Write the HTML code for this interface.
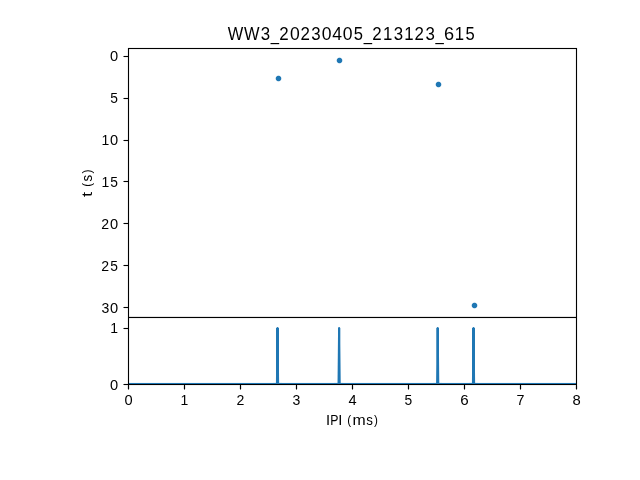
<!DOCTYPE html>
<html><head><meta charset="utf-8"><style>
html,body{margin:0;padding:0;background:#fff;width:640px;height:480px;overflow:hidden}
svg{display:block;will-change:transform}
text{font-family:"Liberation Sans",sans-serif;fill:#000}
</style></head><body>
<svg width="640" height="480" viewBox="0 0 640 480">
<rect width="640" height="480" fill="#fff"/>
<g fill="#1f77b4"><g transform="translate(278 78)"><rect x="-1" y="-3" width="1" height="1" fill-opacity="0.11"/><rect x="0" y="-3" width="1" height="1" fill-opacity="0.26"/><rect x="1" y="-3" width="1" height="1" fill-opacity="0.11"/><rect x="-2" y="-2" width="1" height="1" fill-opacity="0.39"/><rect x="-1" y="-2" width="1" height="1" fill-opacity="0.99"/><rect x="0" y="-2" width="1" height="1"/><rect x="1" y="-2" width="1" height="1" fill-opacity="0.99"/><rect x="2" y="-2" width="1" height="1" fill-opacity="0.39"/><rect x="-3" y="-1" width="1" height="1" fill-opacity="0.11"/><rect x="-2" y="-1" width="1" height="1" fill-opacity="0.99"/><rect x="-1" y="-1" width="3" height="1"/><rect x="2" y="-1" width="1" height="1" fill-opacity="0.99"/><rect x="3" y="-1" width="1" height="1" fill-opacity="0.11"/><rect x="-3" y="0" width="1" height="1" fill-opacity="0.26"/><rect x="-2" y="0" width="5" height="1"/><rect x="3" y="0" width="1" height="1" fill-opacity="0.25"/><rect x="-3" y="1" width="1" height="1" fill-opacity="0.11"/><rect x="-2" y="1" width="1" height="1" fill-opacity="0.99"/><rect x="-1" y="1" width="3" height="1"/><rect x="2" y="1" width="1" height="1" fill-opacity="0.99"/><rect x="3" y="1" width="1" height="1" fill-opacity="0.11"/><rect x="-2" y="2" width="1" height="1" fill-opacity="0.39"/><rect x="-1" y="2" width="1" height="1" fill-opacity="0.99"/><rect x="0" y="2" width="1" height="1"/><rect x="1" y="2" width="1" height="1" fill-opacity="0.99"/><rect x="2" y="2" width="1" height="1" fill-opacity="0.39"/><rect x="-1" y="3" width="1" height="1" fill-opacity="0.11"/><rect x="0" y="3" width="1" height="1" fill-opacity="0.25"/><rect x="1" y="3" width="1" height="1" fill-opacity="0.11"/></g><g transform="translate(339 60)"><rect x="-1" y="-3" width="1" height="1" fill-opacity="0.11"/><rect x="0" y="-3" width="1" height="1" fill-opacity="0.26"/><rect x="1" y="-3" width="1" height="1" fill-opacity="0.11"/><rect x="-2" y="-2" width="1" height="1" fill-opacity="0.39"/><rect x="-1" y="-2" width="1" height="1" fill-opacity="0.99"/><rect x="0" y="-2" width="1" height="1"/><rect x="1" y="-2" width="1" height="1" fill-opacity="0.99"/><rect x="2" y="-2" width="1" height="1" fill-opacity="0.39"/><rect x="-3" y="-1" width="1" height="1" fill-opacity="0.11"/><rect x="-2" y="-1" width="1" height="1" fill-opacity="0.99"/><rect x="-1" y="-1" width="3" height="1"/><rect x="2" y="-1" width="1" height="1" fill-opacity="0.99"/><rect x="3" y="-1" width="1" height="1" fill-opacity="0.11"/><rect x="-3" y="0" width="1" height="1" fill-opacity="0.26"/><rect x="-2" y="0" width="5" height="1"/><rect x="3" y="0" width="1" height="1" fill-opacity="0.25"/><rect x="-3" y="1" width="1" height="1" fill-opacity="0.11"/><rect x="-2" y="1" width="1" height="1" fill-opacity="0.99"/><rect x="-1" y="1" width="3" height="1"/><rect x="2" y="1" width="1" height="1" fill-opacity="0.99"/><rect x="3" y="1" width="1" height="1" fill-opacity="0.11"/><rect x="-2" y="2" width="1" height="1" fill-opacity="0.39"/><rect x="-1" y="2" width="1" height="1" fill-opacity="0.99"/><rect x="0" y="2" width="1" height="1"/><rect x="1" y="2" width="1" height="1" fill-opacity="0.99"/><rect x="2" y="2" width="1" height="1" fill-opacity="0.39"/><rect x="-1" y="3" width="1" height="1" fill-opacity="0.11"/><rect x="0" y="3" width="1" height="1" fill-opacity="0.25"/><rect x="1" y="3" width="1" height="1" fill-opacity="0.11"/></g><g transform="translate(438 84)"><rect x="-1" y="-3" width="1" height="1" fill-opacity="0.11"/><rect x="0" y="-3" width="1" height="1" fill-opacity="0.26"/><rect x="1" y="-3" width="1" height="1" fill-opacity="0.11"/><rect x="-2" y="-2" width="1" height="1" fill-opacity="0.39"/><rect x="-1" y="-2" width="1" height="1" fill-opacity="0.99"/><rect x="0" y="-2" width="1" height="1"/><rect x="1" y="-2" width="1" height="1" fill-opacity="0.99"/><rect x="2" y="-2" width="1" height="1" fill-opacity="0.39"/><rect x="-3" y="-1" width="1" height="1" fill-opacity="0.11"/><rect x="-2" y="-1" width="1" height="1" fill-opacity="0.99"/><rect x="-1" y="-1" width="3" height="1"/><rect x="2" y="-1" width="1" height="1" fill-opacity="0.99"/><rect x="3" y="-1" width="1" height="1" fill-opacity="0.11"/><rect x="-3" y="0" width="1" height="1" fill-opacity="0.26"/><rect x="-2" y="0" width="5" height="1"/><rect x="3" y="0" width="1" height="1" fill-opacity="0.25"/><rect x="-3" y="1" width="1" height="1" fill-opacity="0.11"/><rect x="-2" y="1" width="1" height="1" fill-opacity="0.99"/><rect x="-1" y="1" width="3" height="1"/><rect x="2" y="1" width="1" height="1" fill-opacity="0.99"/><rect x="3" y="1" width="1" height="1" fill-opacity="0.11"/><rect x="-2" y="2" width="1" height="1" fill-opacity="0.39"/><rect x="-1" y="2" width="1" height="1" fill-opacity="0.99"/><rect x="0" y="2" width="1" height="1"/><rect x="1" y="2" width="1" height="1" fill-opacity="0.99"/><rect x="2" y="2" width="1" height="1" fill-opacity="0.39"/><rect x="-1" y="3" width="1" height="1" fill-opacity="0.11"/><rect x="0" y="3" width="1" height="1" fill-opacity="0.25"/><rect x="1" y="3" width="1" height="1" fill-opacity="0.11"/></g><g transform="translate(474 305)"><rect x="-1" y="-3" width="1" height="1" fill-opacity="0.11"/><rect x="0" y="-3" width="1" height="1" fill-opacity="0.26"/><rect x="1" y="-3" width="1" height="1" fill-opacity="0.11"/><rect x="-2" y="-2" width="1" height="1" fill-opacity="0.39"/><rect x="-1" y="-2" width="1" height="1" fill-opacity="0.99"/><rect x="0" y="-2" width="1" height="1"/><rect x="1" y="-2" width="1" height="1" fill-opacity="0.99"/><rect x="2" y="-2" width="1" height="1" fill-opacity="0.39"/><rect x="-3" y="-1" width="1" height="1" fill-opacity="0.11"/><rect x="-2" y="-1" width="1" height="1" fill-opacity="0.99"/><rect x="-1" y="-1" width="3" height="1"/><rect x="2" y="-1" width="1" height="1" fill-opacity="0.99"/><rect x="3" y="-1" width="1" height="1" fill-opacity="0.11"/><rect x="-3" y="0" width="1" height="1" fill-opacity="0.26"/><rect x="-2" y="0" width="5" height="1"/><rect x="3" y="0" width="1" height="1" fill-opacity="0.25"/><rect x="-3" y="1" width="1" height="1" fill-opacity="0.11"/><rect x="-2" y="1" width="1" height="1" fill-opacity="0.99"/><rect x="-1" y="1" width="3" height="1"/><rect x="2" y="1" width="1" height="1" fill-opacity="0.99"/><rect x="3" y="1" width="1" height="1" fill-opacity="0.11"/><rect x="-2" y="2" width="1" height="1" fill-opacity="0.39"/><rect x="-1" y="2" width="1" height="1" fill-opacity="0.99"/><rect x="0" y="2" width="1" height="1"/><rect x="1" y="2" width="1" height="1" fill-opacity="0.99"/><rect x="2" y="2" width="1" height="1" fill-opacity="0.39"/><rect x="-1" y="3" width="1" height="1" fill-opacity="0.11"/><rect x="0" y="3" width="1" height="1" fill-opacity="0.25"/><rect x="1" y="3" width="1" height="1" fill-opacity="0.11"/></g></g>
<g fill="#1f77b4"><rect x="273" y="382" width="1" height="1" fill-opacity="0.04"/><rect x="274" y="382" width="1" height="1" fill-opacity="0.04"/><rect x="275" y="377" width="1" height="1" fill-opacity="0.02"/><rect x="275" y="378" width="1" height="1" fill-opacity="0.03"/><rect x="275" y="379" width="1" height="1" fill-opacity="0.04"/><rect x="275" y="380" width="1" height="1" fill-opacity="0.05"/><rect x="275" y="381" width="1" height="1" fill-opacity="0.06"/><rect x="275" y="382" width="1" height="1" fill-opacity="0.11"/><rect x="276" y="327" width="1" height="1" fill-opacity="0.29"/><rect x="276" y="328" width="1" height="55"/><rect x="277" y="327" width="1" height="1" fill-opacity="0.94"/><rect x="277" y="328" width="1" height="55"/><rect x="278" y="327" width="1" height="1" fill-opacity="0.32"/><rect x="278" y="328" width="1" height="55"/><rect x="279" y="373" width="1" height="1" fill-opacity="0.02"/><rect x="279" y="374" width="1" height="1" fill-opacity="0.03"/><rect x="279" y="375" width="1" height="2" fill-opacity="0.04"/><rect x="279" y="377" width="1" height="1" fill-opacity="0.06"/><rect x="279" y="378" width="1" height="1" fill-opacity="0.07"/><rect x="279" y="379" width="1" height="1" fill-opacity="0.08"/><rect x="279" y="380" width="1" height="1" fill-opacity="0.09"/><rect x="279" y="381" width="1" height="1" fill-opacity="0.1"/><rect x="279" y="382" width="1" height="1" fill-opacity="0.15"/><rect x="280" y="382" width="1" height="1" fill-opacity="0.04"/><rect x="281" y="382" width="1" height="1" fill-opacity="0.04"/><rect x="334" y="382" width="1" height="1" fill-opacity="0.04"/><rect x="335" y="382" width="1" height="1" fill-opacity="0.04"/><rect x="336" y="382" width="1" height="1" fill-opacity="0.04"/><rect x="337" y="337" width="1" height="1" fill-opacity="0.02"/><rect x="337" y="338" width="1" height="2" fill-opacity="0.04"/><rect x="337" y="340" width="1" height="1" fill-opacity="0.05"/><rect x="337" y="341" width="1" height="1" fill-opacity="0.06"/><rect x="337" y="342" width="1" height="1" fill-opacity="0.07"/><rect x="337" y="343" width="1" height="1" fill-opacity="0.08"/><rect x="337" y="344" width="1" height="1" fill-opacity="0.09"/><rect x="337" y="345" width="1" height="1" fill-opacity="0.1"/><rect x="337" y="346" width="1" height="1" fill-opacity="0.11"/><rect x="337" y="347" width="1" height="1" fill-opacity="0.12"/><rect x="337" y="348" width="1" height="1" fill-opacity="0.13"/><rect x="337" y="349" width="1" height="1" fill-opacity="0.14"/><rect x="337" y="350" width="1" height="2" fill-opacity="0.16"/><rect x="337" y="352" width="1" height="1" fill-opacity="0.17"/><rect x="337" y="353" width="1" height="1" fill-opacity="0.18"/><rect x="337" y="354" width="1" height="2" fill-opacity="0.2"/><rect x="337" y="356" width="1" height="1" fill-opacity="0.21"/><rect x="337" y="357" width="1" height="1" fill-opacity="0.22"/><rect x="337" y="358" width="1" height="1" fill-opacity="0.23"/><rect x="337" y="359" width="1" height="2" fill-opacity="0.25"/><rect x="337" y="361" width="1" height="1" fill-opacity="0.26"/><rect x="337" y="362" width="1" height="1" fill-opacity="0.27"/><rect x="337" y="363" width="1" height="2" fill-opacity="0.29"/><rect x="337" y="365" width="1" height="1" fill-opacity="0.3"/><rect x="337" y="366" width="1" height="2" fill-opacity="0.32"/><rect x="337" y="368" width="1" height="1" fill-opacity="0.33"/><rect x="337" y="369" width="1" height="1" fill-opacity="0.34"/><rect x="337" y="370" width="1" height="1" fill-opacity="0.35"/><rect x="337" y="371" width="1" height="1" fill-opacity="0.36"/><rect x="337" y="372" width="1" height="2" fill-opacity="0.38"/><rect x="337" y="374" width="1" height="1" fill-opacity="0.39"/><rect x="337" y="375" width="1" height="1" fill-opacity="0.41"/><rect x="337" y="376" width="1" height="2" fill-opacity="0.42"/><rect x="337" y="378" width="1" height="1" fill-opacity="0.43"/><rect x="337" y="379" width="1" height="2" fill-opacity="0.45"/><rect x="337" y="381" width="1" height="1" fill-opacity="0.46"/><rect x="337" y="382" width="1" height="1" fill-opacity="0.5"/><rect x="338" y="327" width="1" height="1" fill-opacity="0.66"/><rect x="338" y="328" width="1" height="55"/><rect x="339" y="327" width="1" height="1" fill-opacity="0.86"/><rect x="339" y="328" width="1" height="55"/><rect x="340" y="327" width="1" height="1" fill-opacity="0.04"/><rect x="340" y="328" width="1" height="16" fill-opacity="0.32"/><rect x="340" y="344" width="1" height="1" fill-opacity="0.33"/><rect x="340" y="345" width="1" height="1" fill-opacity="0.34"/><rect x="340" y="346" width="1" height="1" fill-opacity="0.35"/><rect x="340" y="347" width="1" height="1" fill-opacity="0.36"/><rect x="340" y="348" width="1" height="1" fill-opacity="0.37"/><rect x="340" y="349" width="1" height="1" fill-opacity="0.38"/><rect x="340" y="350" width="1" height="1" fill-opacity="0.39"/><rect x="340" y="351" width="1" height="1" fill-opacity="0.4"/><rect x="340" y="352" width="1" height="1" fill-opacity="0.41"/><rect x="340" y="353" width="1" height="1" fill-opacity="0.42"/><rect x="340" y="354" width="1" height="1" fill-opacity="0.43"/><rect x="340" y="355" width="1" height="1" fill-opacity="0.44"/><rect x="340" y="356" width="1" height="1" fill-opacity="0.45"/><rect x="340" y="357" width="1" height="1" fill-opacity="0.46"/><rect x="340" y="358" width="1" height="1" fill-opacity="0.47"/><rect x="340" y="359" width="1" height="1" fill-opacity="0.48"/><rect x="340" y="360" width="1" height="1" fill-opacity="0.49"/><rect x="340" y="361" width="1" height="1" fill-opacity="0.5"/><rect x="340" y="362" width="1" height="1" fill-opacity="0.51"/><rect x="340" y="363" width="1" height="1" fill-opacity="0.52"/><rect x="340" y="364" width="1" height="1" fill-opacity="0.53"/><rect x="340" y="365" width="1" height="1" fill-opacity="0.54"/><rect x="340" y="366" width="1" height="1" fill-opacity="0.55"/><rect x="340" y="367" width="1" height="1" fill-opacity="0.56"/><rect x="340" y="368" width="1" height="1" fill-opacity="0.57"/><rect x="340" y="369" width="1" height="1" fill-opacity="0.58"/><rect x="340" y="370" width="1" height="1" fill-opacity="0.59"/><rect x="340" y="371" width="1" height="1" fill-opacity="0.6"/><rect x="340" y="372" width="1" height="1" fill-opacity="0.61"/><rect x="340" y="373" width="1" height="1" fill-opacity="0.62"/><rect x="340" y="374" width="1" height="1" fill-opacity="0.63"/><rect x="340" y="375" width="1" height="1" fill-opacity="0.64"/><rect x="340" y="376" width="1" height="1" fill-opacity="0.65"/><rect x="340" y="377" width="1" height="1" fill-opacity="0.66"/><rect x="340" y="378" width="1" height="1" fill-opacity="0.67"/><rect x="340" y="379" width="1" height="1" fill-opacity="0.68"/><rect x="340" y="380" width="1" height="1" fill-opacity="0.69"/><rect x="340" y="381" width="1" height="1" fill-opacity="0.7"/><rect x="340" y="382" width="1" height="1" fill-opacity="0.72"/><rect x="341" y="382" width="1" height="1" fill-opacity="0.04"/><rect x="342" y="382" width="1" height="1" fill-opacity="0.04"/><rect x="433" y="382" width="1" height="1" fill-opacity="0.04"/><rect x="434" y="382" width="1" height="1" fill-opacity="0.04"/><rect x="435" y="382" width="1" height="1" fill-opacity="0.04"/><rect x="436" y="327" width="1" height="1" fill-opacity="0.16"/><rect x="436" y="328" width="1" height="37" fill-opacity="0.73"/><rect x="436" y="365" width="1" height="1" fill-opacity="0.74"/><rect x="436" y="366" width="1" height="1" fill-opacity="0.75"/><rect x="436" y="367" width="1" height="1" fill-opacity="0.76"/><rect x="436" y="368" width="1" height="1" fill-opacity="0.77"/><rect x="436" y="369" width="1" height="1" fill-opacity="0.78"/><rect x="436" y="370" width="1" height="1" fill-opacity="0.79"/><rect x="436" y="371" width="1" height="1" fill-opacity="0.8"/><rect x="436" y="372" width="1" height="1" fill-opacity="0.81"/><rect x="436" y="373" width="1" height="1" fill-opacity="0.82"/><rect x="436" y="374" width="1" height="1" fill-opacity="0.83"/><rect x="436" y="375" width="1" height="1" fill-opacity="0.84"/><rect x="436" y="376" width="1" height="1" fill-opacity="0.85"/><rect x="436" y="377" width="1" height="1" fill-opacity="0.86"/><rect x="436" y="378" width="1" height="1" fill-opacity="0.87"/><rect x="436" y="379" width="1" height="1" fill-opacity="0.88"/><rect x="436" y="380" width="1" height="1" fill-opacity="0.89"/><rect x="436" y="381" width="1" height="1" fill-opacity="0.9"/><rect x="436" y="382" width="1" height="1" fill-opacity="0.92"/><rect x="437" y="327" width="1" height="1" fill-opacity="0.93"/><rect x="437" y="328" width="1" height="55"/><rect x="438" y="327" width="1" height="1" fill-opacity="0.46"/><rect x="438" y="328" width="1" height="55"/><rect x="439" y="357" width="1" height="1" fill-opacity="0.02"/><rect x="439" y="358" width="1" height="1" fill-opacity="0.03"/><rect x="439" y="359" width="1" height="1" fill-opacity="0.04"/><rect x="439" y="360" width="1" height="1" fill-opacity="0.05"/><rect x="439" y="361" width="1" height="1" fill-opacity="0.06"/><rect x="439" y="362" width="1" height="1" fill-opacity="0.07"/><rect x="439" y="363" width="1" height="1" fill-opacity="0.08"/><rect x="439" y="364" width="1" height="1" fill-opacity="0.09"/><rect x="439" y="365" width="1" height="1" fill-opacity="0.1"/><rect x="439" y="366" width="1" height="1" fill-opacity="0.11"/><rect x="439" y="367" width="1" height="1" fill-opacity="0.12"/><rect x="439" y="368" width="1" height="2" fill-opacity="0.13"/><rect x="439" y="370" width="1" height="1" fill-opacity="0.15"/><rect x="439" y="371" width="1" height="1" fill-opacity="0.16"/><rect x="439" y="372" width="1" height="1" fill-opacity="0.17"/><rect x="439" y="373" width="1" height="1" fill-opacity="0.18"/><rect x="439" y="374" width="1" height="1" fill-opacity="0.19"/><rect x="439" y="375" width="1" height="1" fill-opacity="0.2"/><rect x="439" y="376" width="1" height="1" fill-opacity="0.21"/><rect x="439" y="377" width="1" height="1" fill-opacity="0.22"/><rect x="439" y="378" width="1" height="1" fill-opacity="0.23"/><rect x="439" y="379" width="1" height="1" fill-opacity="0.24"/><rect x="439" y="380" width="1" height="1" fill-opacity="0.25"/><rect x="439" y="381" width="1" height="1" fill-opacity="0.26"/><rect x="439" y="382" width="1" height="1" fill-opacity="0.3"/><rect x="440" y="382" width="1" height="1" fill-opacity="0.04"/><rect x="441" y="382" width="1" height="1" fill-opacity="0.04"/><rect x="469" y="382" width="1" height="1" fill-opacity="0.04"/><rect x="470" y="382" width="1" height="1" fill-opacity="0.04"/><rect x="471" y="377" width="1" height="1" fill-opacity="0.02"/><rect x="471" y="378" width="1" height="1" fill-opacity="0.03"/><rect x="471" y="379" width="1" height="1" fill-opacity="0.04"/><rect x="471" y="380" width="1" height="1" fill-opacity="0.05"/><rect x="471" y="381" width="1" height="1" fill-opacity="0.06"/><rect x="471" y="382" width="1" height="1" fill-opacity="0.11"/><rect x="472" y="327" width="1" height="1" fill-opacity="0.29"/><rect x="472" y="328" width="1" height="55"/><rect x="473" y="327" width="1" height="1" fill-opacity="0.94"/><rect x="473" y="328" width="1" height="55"/><rect x="474" y="327" width="1" height="1" fill-opacity="0.32"/><rect x="474" y="328" width="1" height="55"/><rect x="475" y="373" width="1" height="1" fill-opacity="0.02"/><rect x="475" y="374" width="1" height="1" fill-opacity="0.03"/><rect x="475" y="375" width="1" height="2" fill-opacity="0.04"/><rect x="475" y="377" width="1" height="1" fill-opacity="0.06"/><rect x="475" y="378" width="1" height="1" fill-opacity="0.07"/><rect x="475" y="379" width="1" height="1" fill-opacity="0.08"/><rect x="475" y="380" width="1" height="1" fill-opacity="0.09"/><rect x="475" y="381" width="1" height="1" fill-opacity="0.1"/><rect x="475" y="382" width="1" height="1" fill-opacity="0.15"/><rect x="476" y="382" width="1" height="1" fill-opacity="0.04"/><rect x="477" y="382" width="1" height="1" fill-opacity="0.04"/><rect x="129" y="382" width="447" height="1" fill-opacity="0.045"/><rect x="129" y="383" width="447" height="1"/></g>
<path d="M128.5 48.5H576.5V384.5H128.5ZM128 317.5H576" fill="none" stroke="#000" stroke-width="1.11"/>
<g fill="#000" fill-opacity="0.055"><rect x="128" y="47" width="449" height="1"/><rect x="129" y="49" width="447" height="1"/><rect x="129" y="316" width="447" height="1"/><rect x="129" y="316" width="447" height="1"/><rect x="124" y="55" width="4" height="1"/><rect x="124" y="57" width="4" height="1"/><rect x="124" y="97" width="4" height="1"/><rect x="124" y="99" width="4" height="1"/><rect x="124" y="139" width="4" height="1"/><rect x="124" y="141" width="4" height="1"/><rect x="124" y="180" width="4" height="1"/><rect x="124" y="182" width="4" height="1"/><rect x="124" y="222" width="4" height="1"/><rect x="124" y="224" width="4" height="1"/><rect x="124" y="264" width="4" height="1"/><rect x="124" y="266" width="4" height="1"/><rect x="124" y="306" width="4" height="1"/><rect x="124" y="308" width="4" height="1"/><rect x="124" y="383" width="4" height="1"/><rect x="124" y="385" width="4" height="1"/><rect x="124" y="327" width="4" height="1"/><rect x="124" y="329" width="4" height="1"/><rect x="127" y="386" width="1" height="3"/><rect x="129" y="386" width="1" height="3"/><rect x="183" y="386" width="1" height="3"/><rect x="185" y="386" width="1" height="3"/><rect x="239" y="386" width="1" height="3"/><rect x="241" y="386" width="1" height="3"/><rect x="295" y="386" width="1" height="3"/><rect x="297" y="386" width="1" height="3"/><rect x="351" y="386" width="1" height="3"/><rect x="353" y="386" width="1" height="3"/><rect x="407" y="386" width="1" height="3"/><rect x="409" y="386" width="1" height="3"/><rect x="463" y="386" width="1" height="3"/><rect x="465" y="386" width="1" height="3"/><rect x="519" y="386" width="1" height="3"/><rect x="521" y="386" width="1" height="3"/><rect x="575" y="386" width="1" height="3"/><rect x="577" y="386" width="1" height="3"/><rect x="129" y="318" width="447" height="1"/><rect x="128" y="385" width="449" height="1"/></g>
<path d="M123.5 56.5H128M123.5 98.5H128M123.5 140.5H128M123.5 181.5H128M123.5 223.5H128M123.5 265.5H128M123.5 307.5H128M123.5 384.5H128M123.5 328.5H128M128.5 385V389.5M184.5 385V389.5M240.5 385V389.5M296.5 385V389.5M352.5 385V389.5M408.5 385V389.5M464.5 385V389.5M520.5 385V389.5M576.5 385V389.5" stroke="#000" stroke-width="1.11" fill="none"/>
<text><tspan x="110.09" y="61.05" font-size="14.837" textLength="8.143" lengthAdjust="spacingAndGlyphs">0</tspan></text>
<text><tspan x="110.26" y="103.05" font-size="14.793" textLength="7.685" lengthAdjust="spacingAndGlyphs">5</tspan></text>
<text><tspan x="101.38" y="145.00" font-size="14.717" textLength="7.777" lengthAdjust="spacingAndGlyphs">1</tspan><tspan x="110.09" y="145.05" font-size="14.837" textLength="8.143" lengthAdjust="spacingAndGlyphs">0</tspan></text>
<text><tspan x="101.38" y="187.00" font-size="14.717" textLength="7.777" lengthAdjust="spacingAndGlyphs">1</tspan><tspan x="110.26" y="187.05" font-size="14.793" textLength="7.685" lengthAdjust="spacingAndGlyphs">5</tspan></text>
<text><tspan x="101.22" y="229.00" font-size="14.763" textLength="7.849" lengthAdjust="spacingAndGlyphs">2</tspan><tspan x="110.09" y="229.05" font-size="14.837" textLength="8.143" lengthAdjust="spacingAndGlyphs">0</tspan></text>
<text><tspan x="101.22" y="271.00" font-size="14.763" textLength="7.849" lengthAdjust="spacingAndGlyphs">2</tspan><tspan x="110.26" y="271.05" font-size="14.793" textLength="7.685" lengthAdjust="spacingAndGlyphs">5</tspan></text>
<text><tspan x="101.44" y="313.05" font-size="14.837" textLength="7.820" lengthAdjust="spacingAndGlyphs">3</tspan><tspan x="110.09" y="313.05" font-size="14.837" textLength="8.143" lengthAdjust="spacingAndGlyphs">0</tspan></text>
<text><tspan x="110.09" y="390.05" font-size="14.837" textLength="8.143" lengthAdjust="spacingAndGlyphs">0</tspan></text>
<text><tspan x="110.20" y="333.00" font-size="14.717" textLength="7.777" lengthAdjust="spacingAndGlyphs">1</tspan></text>
<text><tspan x="124.43" y="405.05" font-size="14.837" textLength="8.143" lengthAdjust="spacingAndGlyphs">0</tspan></text>
<text><tspan x="180.54" y="405.00" font-size="14.717" textLength="7.777" lengthAdjust="spacingAndGlyphs">1</tspan></text>
<text><tspan x="236.39" y="405.00" font-size="14.763" textLength="7.849" lengthAdjust="spacingAndGlyphs">2</tspan></text>
<text><tspan x="292.60" y="405.05" font-size="14.837" textLength="7.820" lengthAdjust="spacingAndGlyphs">3</tspan></text>
<text><tspan x="348.42" y="405.00" font-size="14.717" textLength="8.143" lengthAdjust="spacingAndGlyphs">4</tspan></text>
<text><tspan x="404.60" y="405.05" font-size="14.793" textLength="7.685" lengthAdjust="spacingAndGlyphs">5</tspan></text>
<text><tspan x="460.28" y="405.05" font-size="14.837" textLength="8.427" lengthAdjust="spacingAndGlyphs">6</tspan></text>
<text><tspan x="516.49" y="405.00" font-size="14.717" textLength="7.965" lengthAdjust="spacingAndGlyphs">7</tspan></text>
<text><tspan x="572.38" y="405.05" font-size="14.837" textLength="8.231" lengthAdjust="spacingAndGlyphs">8</tspan></text>
<text><tspan x="227.68" y="40.00" font-size="17.660" textLength="15.509" lengthAdjust="spacingAndGlyphs">W</tspan><tspan x="244.12" y="40.00" font-size="17.660" textLength="15.509" lengthAdjust="spacingAndGlyphs">W</tspan><tspan x="260.70" y="40.06" font-size="17.805" textLength="9.384" lengthAdjust="spacingAndGlyphs">3</tspan><tspan x="270.72" y="40.29" font-size="18.333" textLength="8.267" lengthAdjust="spacingAndGlyphs">_</tspan><tspan x="279.34" y="40.00" font-size="17.716" textLength="9.418" lengthAdjust="spacingAndGlyphs">2</tspan><tspan x="289.96" y="40.06" font-size="17.805" textLength="9.771" lengthAdjust="spacingAndGlyphs">0</tspan><tspan x="300.49" y="40.00" font-size="17.716" textLength="9.418" lengthAdjust="spacingAndGlyphs">2</tspan><tspan x="311.33" y="40.06" font-size="17.805" textLength="9.384" lengthAdjust="spacingAndGlyphs">3</tspan><tspan x="321.69" y="40.06" font-size="17.805" textLength="9.771" lengthAdjust="spacingAndGlyphs">0</tspan><tspan x="332.26" y="40.00" font-size="17.660" textLength="9.772" lengthAdjust="spacingAndGlyphs">4</tspan><tspan x="342.84" y="40.06" font-size="17.805" textLength="9.771" lengthAdjust="spacingAndGlyphs">0</tspan><tspan x="353.63" y="40.06" font-size="17.751" textLength="9.221" lengthAdjust="spacingAndGlyphs">5</tspan><tspan x="363.65" y="40.29" font-size="18.333" textLength="8.267" lengthAdjust="spacingAndGlyphs">_</tspan><tspan x="372.27" y="40.00" font-size="17.716" textLength="9.418" lengthAdjust="spacingAndGlyphs">2</tspan><tspan x="383.03" y="40.00" font-size="17.660" textLength="9.332" lengthAdjust="spacingAndGlyphs">1</tspan><tspan x="393.68" y="40.06" font-size="17.805" textLength="9.384" lengthAdjust="spacingAndGlyphs">3</tspan><tspan x="404.18" y="40.00" font-size="17.660" textLength="9.332" lengthAdjust="spacingAndGlyphs">1</tspan><tspan x="414.58" y="40.00" font-size="17.716" textLength="9.418" lengthAdjust="spacingAndGlyphs">2</tspan><tspan x="425.41" y="40.06" font-size="17.805" textLength="9.384" lengthAdjust="spacingAndGlyphs">3</tspan><tspan x="435.42" y="40.29" font-size="18.333" textLength="8.267" lengthAdjust="spacingAndGlyphs">_</tspan><tspan x="443.91" y="40.06" font-size="17.805" textLength="10.113" lengthAdjust="spacingAndGlyphs">6</tspan><tspan x="454.80" y="40.00" font-size="17.660" textLength="9.332" lengthAdjust="spacingAndGlyphs">1</tspan><tspan x="465.45" y="40.06" font-size="17.751" textLength="9.221" lengthAdjust="spacingAndGlyphs">5</tspan></text>
<text><tspan x="325.89" y="425.00" font-size="14.717" textLength="4.081" lengthAdjust="spacingAndGlyphs">I</tspan><tspan x="330.33" y="425.00" font-size="14.717" textLength="8.193" lengthAdjust="spacingAndGlyphs">P</tspan><tspan x="338.35" y="425.00" font-size="14.717" textLength="4.081" lengthAdjust="spacingAndGlyphs">I</tspan><tspan x="342.43" y="425.00" font-size="14.717"> </tspan><tspan x="347.31" y="424.08" font-size="13.277" textLength="3.910" lengthAdjust="spacingAndGlyphs">(</tspan><tspan x="352.47" y="425.00" font-size="14.456" textLength="13.182" lengthAdjust="spacingAndGlyphs">m</tspan><tspan x="366.15" y="425.05" font-size="14.596" textLength="6.657" lengthAdjust="spacingAndGlyphs">s</tspan><tspan x="374.04" y="424.08" font-size="13.277" textLength="3.910" lengthAdjust="spacingAndGlyphs">)</tspan></text>
<g transform="translate(92 196.9) rotate(-90)"><text><tspan x="-0.11" y="-0.12" font-size="14.905" textLength="5.157" lengthAdjust="spacingAndGlyphs">t</tspan><tspan x="5.24" y="0.00" font-size="14.717"> </tspan><tspan x="10.12" y="-0.92" font-size="13.277" textLength="3.910" lengthAdjust="spacingAndGlyphs">(</tspan><tspan x="15.45" y="0.05" font-size="14.596" textLength="6.657" lengthAdjust="spacingAndGlyphs">s</tspan><tspan x="23.34" y="-0.92" font-size="13.277" textLength="3.910" lengthAdjust="spacingAndGlyphs">)</tspan></text></g>
</svg>
</body></html>
